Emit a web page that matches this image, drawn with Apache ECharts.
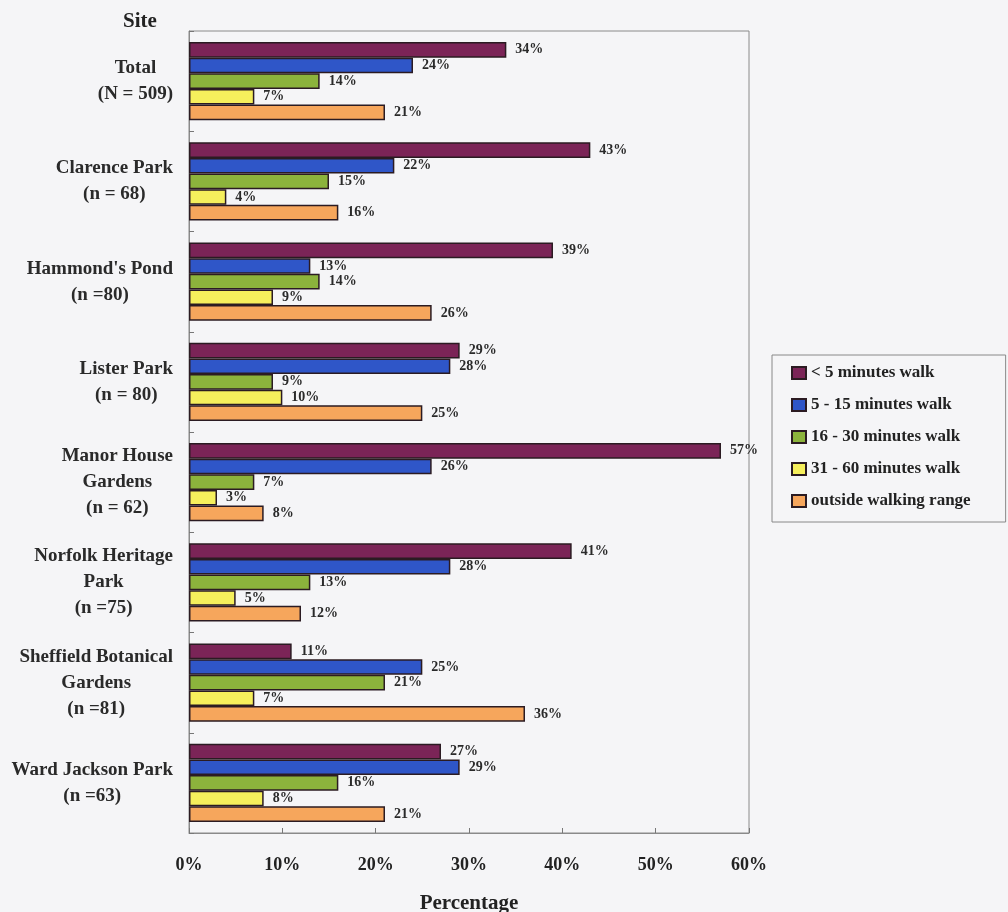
<!DOCTYPE html>
<html>
<head>
<meta charset="utf-8">
<script src="https://cdn.jsdelivr.net/npm/echarts@6/dist/echarts.min.js"></script>
<style>
  html, body { margin: 0; padding: 0; background: #f5f5f7; }
  #chart { width: 1008px; height: 912px; }
</style>
</head>
<body>
<div id="chart"></div>
<script>
const categories = [
  "Total\n(N = 509)",
  "Clarence Park\n(n = 68)",
  "Hammond's Pond\n(n =80)",
  "Lister Park\n(n = 80)",
  "Manor House\nGardens\n(n = 62)",
  "Norfolk Heritage\nPark\n(n =75)",
  "Sheffield Botanical\nGardens\n(n =81)",
  "Ward Jackson Park\n(n =63)"
];
const seriesNames = [
  "< 5 minutes walk",
  "5 - 15 minutes walk",
  "16 - 30 minutes walk",
  "31 - 60 minutes walk",
  "outside walking range"
];
const under5 = [34, 43, 39, 29, 57, 41, 11, 27];
const min5to15 = [24, 22, 13, 28, 26, 28, 25, 29];
const min16to30 = [14, 15, 14, 9, 7, 13, 21, 16];
const min31to60 = [7, 4, 9, 10, 3, 5, 7, 8];
const outsideRange = [21, 16, 26, 25, 8, 12, 36, 21];
const xTicks = [0, 10, 20, 30, 40, 50, 60];

const colors = ["#7b2457", "#2f56c8", "#8cb33c", "#f6ef5c", "#f6a65c"];
const values = [under5, min5to15, min16to30, min31to60, outsideRange];
const serif = "'Liberation Serif', 'DejaVu Serif', serif";

const chart = echarts.init(document.getElementById('chart'));
chart.setOption({
  backgroundColor: '#f5f5f7',
  animation: false,
  title: {
    text: 'Site',
    left: 135,
    textAlign: 'center',
    top: 6,
    textStyle: { fontFamily: serif, fontWeight: 'bold', fontSize: 21, color: '#222' }
  },
  legend: {
    orient: 'vertical',
    left: 772,
    top: 355,
    padding: [9, 35, 12, 19],
    itemGap: 14,
    itemWidth: 14,
    itemHeight: 12,
    borderColor: '#888',
    borderWidth: 1,
    icon: 'rect',
    textStyle: { fontFamily: serif, fontWeight: 'bold', fontSize: 17, color: '#222', lineHeight: 18 },
    data: seriesNames
  },
  grid: {
    left: 189, top: 31, width: 560, height: 802,
    containLabel: false,
    outerBoundsMode: 'none',
    show: true, borderColor: '#8a8a8a', borderWidth: 1, backgroundColor: 'transparent'
  },
  xAxis: {
    type: 'value',
    min: 0, max: 60, interval: 10,
    axisLine: { show: true, lineStyle: { color: '#8a8a8a' } },
    axisTick: { show: true, inside: true, length: 5, lineStyle: { color: '#777' } },
    splitLine: { show: false },
    axisLabel: {
      formatter: v => xTicks.includes(v) ? v + '%' : '',
      fontFamily: serif, fontWeight: 'bold', fontSize: 18, color: '#222', margin: 23
    },
    name: 'Percentage',
    nameLocation: 'middle',
    nameGap: 60,
    nameTextStyle: { fontFamily: serif, fontWeight: 'bold', fontSize: 21, color: '#222' }
  },
  yAxis: {
    type: 'category',
    inverse: true,
    data: categories,
    axisLine: { show: true, lineStyle: { color: '#8a8a8a' } },
    axisTick: { show: true, inside: true, length: 5, lineStyle: { color: '#777' } },
    axisLabel: {
      margin: 16,
      formatter: v => v.split('\n').map(s => '{c|' + s + '}').join('\n'),
      rich: {
        c: { align: 'center', fontFamily: serif, fontWeight: 'bold', fontSize: 19, color: '#2a2a2a', lineHeight: 26 }
      }
    }
  },
  series: seriesNames.map((name, i) => ({
    name: name,
    type: 'bar',
    data: values[i],
    barGap: '0%',
    barCategoryGap: '22%',
    itemStyle: { color: colors[i], borderColor: '#2b1b22', borderWidth: 1.5 },
    label: {
      show: true,
      position: 'right',
      distance: 9,
      formatter: p => p.value + '%',
      fontFamily: serif, fontWeight: 'bold', fontSize: 14, color: '#2a2a2a'
    }
  }))
});
</script>
</body>
</html>
